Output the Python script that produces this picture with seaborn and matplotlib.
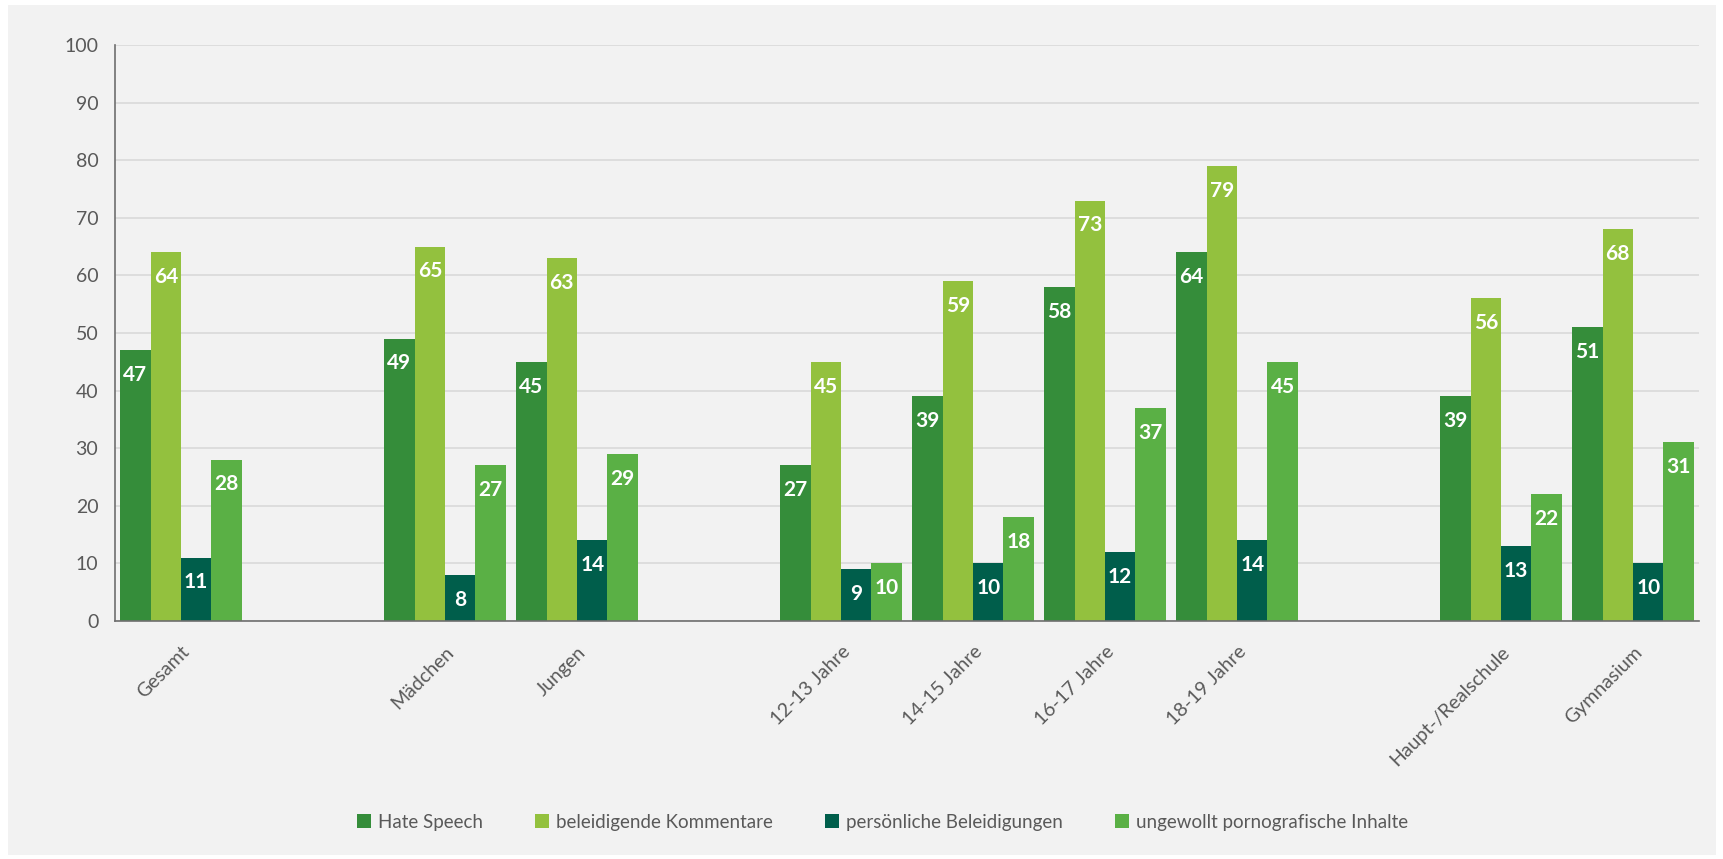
import matplotlib
matplotlib.use("Agg")
import matplotlib.pyplot as plt
import seaborn as sns
import pandas as pd
from matplotlib.patches import Rectangle

# --- data -------------------------------------------------------------
groups = ["Gesamt", "Mädchen", "Jungen", "12-13 Jahre", "14-15 Jahre",
          "16-17 Jahre", "18-19 Jahre", "Haupt-/Realschule", "Gymnasium"]
series = ["Hate Speech", "beleidigende Kommentare",
          "persönliche Beleidigungen", "ungewollt pornografische Inhalte"]
hate_speech = [47, 49, 45, 27, 39, 58, 64, 39, 51]
beleidigende_kommentare = [64, 65, 63, 45, 59, 73, 79, 56, 68]
persoenliche_beleidigungen = [11, 8, 14, 9, 10, 12, 14, 13, 10]
pornografische_inhalte = [28, 27, 29, 10, 18, 37, 45, 22, 31]
y_ticks = list(range(0, 101, 10))

# category order on the x axis, blank slots separate the blocks
order = ["Gesamt", " ",
         "Mädchen", "Jungen", "  ",
         "12-13 Jahre", "14-15 Jahre", "16-17 Jahre", "18-19 Jahre", "   ",
         "Haupt-/Realschule", "Gymnasium"]

colors = ["#358d3a", "#93c13e", "#005e4b", "#5ab045"]
text_gray = "#595959"

values = [hate_speech, beleidigende_kommentare,
          persoenliche_beleidigungen, pornografische_inhalte]
rows = []
for name, vals in zip(series, values):
    for g, v in zip(groups, vals):
        rows.append({"Gruppe": g, "Reihe": name, "Wert": v})
df = pd.DataFrame(rows)

# --- figure -----------------------------------------------------------
sns.set_theme(style="white")
plt.rcParams["font.family"] = ["Lato", "DejaVu Sans"]

fig = plt.figure(figsize=(17.24, 8.59), dpi=100, facecolor="white")
fig.patches.append(Rectangle((8 / 1724, 4 / 859), 1708 / 1724, 850 / 859,
                             transform=fig.transFigure, facecolor="#f2f2f2",
                             edgecolor="none", zorder=-10))
ax = fig.add_axes([115 / 1724, 1 - 621 / 859, (1699 - 115) / 1724, (621 - 45) / 859])
ax.set_facecolor("#f2f2f2")

sns.barplot(data=df, x="Gruppe", y="Wert", hue="Reihe", order=order,
            hue_order=series, palette=colors, saturation=1, width=0.92,
            errorbar=None, linewidth=0, ax=ax, zorder=3)

for cont in ax.containers:
    ax.bar_label(cont, fmt="%g", padding=-25, color="white",
                 fontsize=15, fontweight="bold")

ax.set_ylim(0, 100)
ax.set_yticks(y_ticks)
ax.set_xlim(-0.5, len(order) - 0.5)
ax.set_xlabel("")
ax.set_ylabel("")
ax.yaxis.grid(True, color="#d9d9d9", linewidth=1.2, zorder=0)
ax.set_axisbelow(True)
for side in ["top", "right"]:
    ax.spines[side].set_visible(False)
for side in ["left", "bottom"]:
    ax.spines[side].set_color("#6f6f6f")
    ax.spines[side].set_linewidth(1.2)
    ax.spines[side].set_zorder(4)

ax.tick_params(axis="y", length=0, pad=12, labelsize=14, labelcolor=text_gray)
ax.tick_params(axis="x", length=0, pad=16, labelsize=14, labelcolor=text_gray)
for lbl in ax.get_xticklabels():
    lbl.set_rotation(45)
    lbl.set_ha("right")
    lbl.set_va("top")
    lbl.set_rotation_mode("anchor")

sns.move_legend(ax, "center", bbox_to_anchor=(0.512, 0.043),
                bbox_transform=fig.transFigure, ncol=4, frameon=False,
                title=None, handlelength=0.75, handleheight=0.75,
                handletextpad=0.35, columnspacing=2.8, fontsize=13.5)
for t in ax.get_legend().get_texts():
    t.set_color(text_gray)

fig.savefig("out.png", dpi=100, facecolor=fig.get_facecolor())
